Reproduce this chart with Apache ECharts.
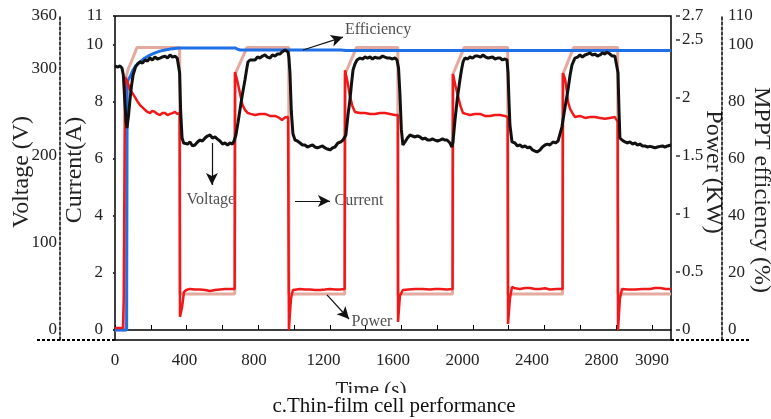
<!DOCTYPE html>
<html>
<head>
<meta charset="utf-8">
<script src="https://cdn.jsdelivr.net/npm/echarts@6/dist/echarts.min.js"></script>
<style>
html, body { margin: 0; padding: 0; background: #fff; }
#main { width: 771px; height: 419px; }
</style>
</head>
<body>
<div id="main"></div>
<script>
var FONT = "'Liberation Serif', 'DejaVu Serif', serif";

// axis ticks / labels
var timeTicks = [0, 206, 412, 618, 824, 1030, 1236, 1442, 1648, 1854, 2060, 2266, 2472, 2678, 2884, 3090];
var timeLabels = [0, 400, 800, 1200, 1600, 2000, 2400, 2800, 3090];
var currentTicks = [0, 2, 4, 6, 8, 10, 11];
var voltageTicks = [0, 100, 200, 300, 360];
var powerTicks = [0, 0.5, 1, 1.5, 2, 2.5, 2.7];
var effTicks = [0, 20, 40, 60, 80, 100, 110];

// [time s, V]
var voltage = [[0,302.7],[15,301.5],[29,302.7],[40,300.4],[48,292.4],[56,263.6],[63,240.8],[69,231.6],[78,246],[86,263.6],[95,280],[104,292.4],[118,301.5],[130,305],[144,307.3],[158,306],[173,309.6],[187,308.4],[201,311.8],[215,309.6],[230,313],[244,310.7],[259,311.8],[273,313],[288,314.1],[302,311.8],[317,315.3],[331,312.9],[345,314.1],[358,311.8],[368,311.8],[372,295],[378,250],[386,220.1],[395,214.4],[403,215.6],[418,213.2],[432,215.6],[446,211],[460,212.1],[475,215.6],[489,217.8],[503,216.7],[518,220.1],[532,222.4],[547,223.6],[561,220.1],[576,221.3],[590,218.9],[604,216.7],[619,213.2],[633,214.4],[648,212.1],[662,214.4],[676,213.2],[685,216.7],[696,223.6],[708,238],[719,252.2],[733,270],[748,286.6],[757,298],[765,307.3],[777,309.6],[788,311.8],[806,309.6],[820,313],[834,311.8],[849,314.1],[863,315.3],[877,312.9],[892,311.8],[906,315.3],[921,314.1],[935,316.4],[950,316.4],[961,318.7],[970,317.6],[978,321],[987,319.9],[996,318.7],[1001,312],[1007,295],[1015,250],[1024,225],[1036,217.8],[1050,216.7],[1065,214.4],[1079,212.1],[1093,212.1],[1108,209.8],[1122,211],[1137,212.1],[1151,209.8],[1165,208.7],[1180,210],[1194,211],[1209,208.7],[1223,207.5],[1237,206.4],[1252,208.7],[1266,209.8],[1283,214.4],[1300,215.6],[1312,217.8],[1322,217.8],[1329,223.6],[1340,245],[1352,263.6],[1361,282],[1370,298.1],[1381,305],[1393,309.6],[1410,311.8],[1425,310.7],[1439,313],[1453,311.8],[1468,313],[1482,310.7],[1496,312.9],[1511,311.8],[1525,311.8],[1540,314.1],[1554,312.9],[1568,311.8],[1583,311.8],[1597,310.7],[1611,312],[1623,309.6],[1632,300],[1640,270],[1648,230],[1657,212.1],[1669,215.6],[1683,220.1],[1698,223.6],[1712,222.4],[1727,221.3],[1741,222.4],[1755,221.3],[1770,219],[1784,220.1],[1799,217.8],[1813,217.8],[1827,219],[1842,217.8],[1856,216.7],[1870,217.8],[1885,219],[1899,217.8],[1911,217.8],[1928,214.4],[1939,209.8],[1945,215],[1957,240.8],[1970,265],[1985,286.6],[1994,298],[2003,307.3],[2014,311.8],[2030,310.7],[2043,313],[2058,311.8],[2072,314.1],[2089,314.1],[2104,312.9],[2118,315.3],[2133,313],[2148,311.8],[2158,311.8],[2173,313],[2187,310.7],[2202,311.8],[2216,311.8],[2230,309.6],[2244,310.7],[2256,309.6],[2262,295],[2268,260],[2273,235],[2285,215.6],[2302,214.4],[2316,211],[2331,212.1],[2345,209.8],[2360,211],[2374,208.7],[2388,209.8],[2403,206.4],[2417,205.2],[2429,204.1],[2446,206.4],[2460,209.8],[2475,212.1],[2489,213.2],[2503,212.1],[2521,215.6],[2535,214.4],[2550,216.7],[2561,217.8],[2572,232.7],[2590,255],[2607,275.2],[2619,292],[2630,303.8],[2647,311.8],[2662,312.9],[2676,315.3],[2690,313],[2705,315.3],[2720,316.4],[2734,317.6],[2748,315.3],[2762,316.4],[2777,314.1],[2791,315.3],[2805,317.6],[2820,316.4],[2831,318.7],[2848,316.4],[2862,314.1],[2877,314.1],[2888,312],[2895,295],[2901,250],[2906,220.1],[2918,217.8],[2935,215.6],[2950,214.4],[2964,215.6],[2979,213.2],[2993,214.4],[3007,212.1],[3021,213.2],[3036,211],[3050,211],[3065,209.8],[3079,210.5],[3093,209.8],[3108,208.7],[3122,209.8],[3137,210.5],[3151,211],[3165,209.8],[3180,211],[3200,212.1]];

// [time s, A]
var current = [[0,0.07],[46,0.07],[50,1.05],[55,1.1],[58,8.86],[72,8.7],[86,8.41],[100,8.3],[115,8.16],[130,8.0],[144,7.88],[158,7.8],[173,7.71],[187,7.64],[201,7.6],[215,7.67],[230,7.64],[244,7.57],[259,7.53],[273,7.6],[288,7.6],[302,7.53],[317,7.57],[331,7.6],[345,7.64],[358,7.57],[372,7.6],[374,0.46],[386,0.8],[397,1.33],[410,1.4],[432,1.44],[460,1.42],[489,1.42],[518,1.4],[547,1.37],[576,1.4],[604,1.42],[633,1.44],[662,1.44],[689,1.44],[691,9.04],[705,8.7],[719,8.3],[733,7.9],[748,7.71],[765,7.6],[780,7.57],[806,7.53],[834,7.57],[863,7.57],[892,7.5],[921,7.5],[940,7.45],[961,7.36],[980,7.45],[996,7.46],[1000,7.46],[1001,0],[1007,0.6],[1013,1.1],[1024,1.4],[1065,1.44],[1093,1.42],[1122,1.42],[1151,1.4],[1180,1.4],[1209,1.42],[1237,1.44],[1266,1.42],[1295,1.42],[1322,1.44],[1324,9.1],[1338,8.7],[1352,8.2],[1366,7.85],[1381,7.64],[1410,7.6],[1439,7.6],[1468,7.57],[1496,7.57],[1525,7.6],[1554,7.6],[1583,7.57],[1611,7.53],[1628,7.53],[1629,0.28],[1635,0.8],[1640,1.2],[1657,1.4],[1690,1.42],[1727,1.44],[1770,1.44],[1813,1.42],[1842,1.44],[1870,1.44],[1910,1.42],[1943,1.44],[1945,8.97],[1960,8.55],[1974,8.2],[1988,7.85],[2003,7.6],[2020,7.57],[2043,7.53],[2072,7.57],[2101,7.57],[2129,7.5],[2158,7.5],[2187,7.53],[2216,7.53],[2244,7.5],[2260,7.46],[2262,0.21],[2268,0.7],[2273,1.1],[2285,1.51],[2302,1.46],[2331,1.44],[2360,1.47],[2388,1.47],[2417,1.44],[2446,1.44],[2475,1.46],[2503,1.42],[2540,1.44],[2576,1.44],[2578,9.0],[2590,8.8],[2600,8.4],[2607,8.0],[2619,7.75],[2633,7.6],[2647,7.46],[2676,7.5],[2705,7.43],[2734,7.46],[2762,7.46],[2791,7.43],[2820,7.4],[2848,7.43],[2877,7.46],[2893,7.3],[2895,0],[2901,0.6],[2906,1.1],[2918,1.44],[2950,1.42],[2993,1.42],[3036,1.44],[3079,1.44],[3108,1.47],[3137,1.47],[3170,1.44],[3200,1.44]];

// [time s, kW]
var power = [[0,0],[57,0],[60,2.15],[75,2.24],[100,2.33],[127,2.43],[372,2.43],[374,0.31],[689,0.31],[691,2.2],[760,2.43],[1000,2.43],[1001,0.31],[1322,0.31],[1324,2.2],[1390,2.43],[1628,2.43],[1629,0.31],[1943,0.31],[1945,2.2],[2010,2.43],[2260,2.43],[2262,0.31],[2576,0.31],[2578,2.2],[2640,2.43],[2893,2.43],[2895,0.31],[3200,0.31]];

// [time s, %]
var efficiency = [[0,0],[67,0],[70,86.5],[75,87.5],[86,88.6],[104,91.1],[120,92.6],[144,93.9],[170,95.2],[201,96.3],[230,97.1],[259,97.7],[288,98.1],[317,98.4],[374,98.8],[691,98.8],[705,98.4],[720,98.1],[1300,98.1],[1330,97.9],[3200,97.9]];

// annotations, in [time s, A]
var noteNames = ['Voltage', 'Current', 'Efficiency', 'Power'];
var notePos = [[552, 4.55], [1404, 4.52], [1514, 10.51], [1479, 0.28]];
var arrowFrom = [[558, 6.55], [1036, 4.52], [1082, 9.81], [1220, 1.23]];
var arrowTo = [[558, 5.08], [1237, 4.52], [1312, 10.26], [1347, 0.385]];

var chart = echarts.init(document.getElementById('main'));

// value 0 sits 10px above the bottom frame line (324px tall grid)
function lowOf(max) { return -max * 10 / 314; }

function plain(v) { return String(v); }

function labelStyle(values, margin) {
    return { customValues: values, margin: margin, formatter: plain, color: '#222', fontFamily: FONT, fontSize: 17 };
}

function yAx(o) {
    var base = {
        type: 'value',
        splitLine: { show: false },
        nameLocation: 'middle',
        nameMoveOverlap: false
    };
    for (var k in o) base[k] = o[k];
    return base;
}

function nameStyle(pad) {
    return { color: '#222', fontFamily: FONT, fontSize: 24, padding: pad };
}

var option = {
    animation: false,
    backgroundColor: '#fff',
    grid: {
        left: 115, right: 100, top: 16, bottom: 79,
        show: true, borderColor: '#000', borderWidth: 1.5,
        outerBoundsMode: 'none'
    },
    xAxis: {
        type: 'value',
        min: 0,
        max: 3200,
        name: 'Time (s)',
        nameLocation: 'middle',
        nameMoveOverlap: false,
        nameGap: 40,
        nameTextStyle: { color: '#222', fontFamily: FONT, fontSize: 21, padding: [0, 44, 0, 0] },
        axisLine: { lineStyle: { color: '#000', width: 1.5 } },
        axisTick: { inside: true, length: 5, customValues: timeTicks, lineStyle: { color: '#000', width: 1 } },
        axisLabel: labelStyle(timeLabels, 12),
        splitLine: { show: false }
    },
    yAxis: [
        yAx({
            name: 'Current(A)', nameGap: 19, position: 'left', offset: 9,
            nameTextStyle: nameStyle([0, 0, 0, 16]),
            min: lowOf(11), max: 11,
            axisLine: { show: false },
            axisTick: { show: true, length: 2, customValues: currentTicks, lineStyle: { color: '#333', width: 2 } },
            axisLabel: labelStyle(currentTicks, 3)
        }),
        yAx({
            name: 'Voltage (V)', nameGap: 26, position: 'left', offset: 55,
            nameTextStyle: nameStyle([0, 0, 0, 12]),
            min: lowOf(360), max: 360,
            axisLine: { show: true, lineStyle: { color: '#000', width: 1.5, type: [3, 2] } },
            axisTick: { show: false },
            axisLabel: labelStyle(voltageTicks, 3)
        }),
        yAx({
            name: 'Power (KW)', nameGap: 25, nameRotate: -90, position: 'right', offset: 5,
            nameTextStyle: nameStyle([0, 12, 0, 0]),
            min: lowOf(2.7), max: 2.7,
            axisLine: { show: false },
            axisTick: { show: true, length: 4, customValues: powerTicks, lineStyle: { color: '#333', width: 1.5 } },
            axisLabel: labelStyle(powerTicks, 6)
        }),
        yAx({
            name: 'MPPT efficiency (%)', nameGap: 27, nameRotate: -90, position: 'right', offset: 51,
            nameTextStyle: nameStyle([0, 0, 0, 24]),
            min: lowOf(110), max: 110,
            axisLine: { show: true, lineStyle: { color: '#000', width: 1.5, type: [3, 2] } },
            axisTick: { show: false },
            axisLabel: labelStyle(effTicks, 6)
        })
    ],
    series: [
        {
            name: 'Power', type: 'line', yAxisIndex: 2, data: power,
            showSymbol: false, lineStyle: { color: '#e6a9a0', width: 3 }, itemStyle: { color: '#e6a9a0' }
        },
        {
            name: 'Efficiency', type: 'line', yAxisIndex: 3, data: efficiency,
            showSymbol: false, lineStyle: { color: '#1f6fe6', width: 3 }, itemStyle: { color: '#1f6fe6' }
        },
        {
            name: 'Current', type: 'line', yAxisIndex: 0, data: current,
            showSymbol: false, lineStyle: { color: '#f01818', width: 2.5 }, itemStyle: { color: '#f01818' }
        },
        {
            name: 'Voltage', type: 'line', yAxisIndex: 1, data: voltage,
            showSymbol: false, lineStyle: { color: '#111', width: 3 }, itemStyle: { color: '#111' }
        },
        {
            name: 'notes', type: 'scatter', yAxisIndex: 0, silent: true,
            symbolSize: 1,
            itemStyle: { color: 'rgba(0,0,0,0)' },
            label: { show: true, position: 'inside', formatter: '{b}', color: '#222', fontFamily: FONT, fontSize: 16 },
            data: noteNames.map(function(n, i) { return { name: n, value: notePos[i] }; }),
            markLine: {
                silent: true,
                symbol: ['none', 'arrow'],
                symbolSize: [9, 12],
                label: { show: false },
                lineStyle: { color: '#111', width: 1.2, type: 'solid' },
                data: arrowFrom.map(function(f, i) { return [{ coord: f }, { coord: arrowTo[i] }]; })
            }
        }
    ],
    graphic: [
        { type: 'line', z: 50, shape: { x1: 37, y1: 340, x2: 115, y2: 340 }, style: { stroke: '#000', lineWidth: 2, lineDash: [3, 2] } },
        { type: 'line', z: 50, shape: { x1: 671, y1: 340, x2: 750, y2: 340 }, style: { stroke: '#000', lineWidth: 2, lineDash: [3, 2] } },
        { type: 'rect', z: 100, shape: { x: 0, y: 393, width: 771, height: 26 }, style: { fill: '#fff' } },
        { type: 'text', z: 101, x: 394, y: 406, style: { text: 'c.Thin-film cell performance', fill: '#111', font: '21px ' + FONT, textAlign: 'center', textVerticalAlign: 'middle' } }
    ]
};

chart.setOption(option);
</script>
</body>
</html>
